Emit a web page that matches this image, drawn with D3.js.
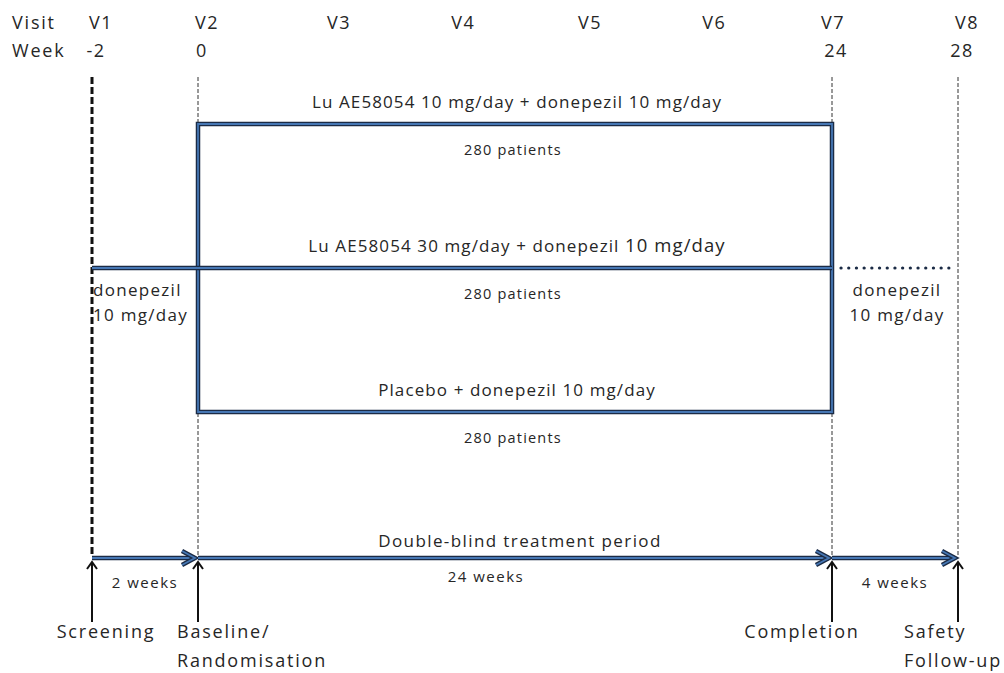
<!DOCTYPE html>
<html>
<head>
<meta charset="utf-8">
<script src="https://cdn.jsdelivr.net/npm/d3@7"></script>
<style>
body { margin: 0; background: #fff; }
text { font-family: "Open Sans", sans-serif; fill: #262626; }
</style>
</head>
<body>
<svg id="chart" width="1004" height="673"></svg>
<script>
// study design values
const visits = ['V1', 'V2', 'V3', 'V4', 'V5', 'V6', 'V7', 'V8'];
const visitWeeks = [-2, 0, 5, 9.7, 14.5, 19.2, 23.7, 28];
const weekTicks = [-2, 0, 24, 28];
const armTreatments = ['Lu AE58054 10 mg/day', 'Lu AE58054 30 mg/day', 'Placebo'];
const armBackground = 'donepezil 10 mg/day';
const armPatients = [280, 280, 280];
const periodStart = [-2, 0, 24];
const periodEnd = [0, 24, 28];
const periodWeeks = [2, 24, 4];
const periodLabelWeek = [-1, 10.9, 26];
const periodTitles = ['', 'Double-blind treatment period', ''];
const milestoneWeeks = [-2, 0, 24, 28];
const milestones = [['Screening'], ['Baseline/', 'Randomisation'], ['Completion'], ['Safety', 'Follow-up']];
const openLabelWeeks = [-2, 26]; // donepezil-only run-in / follow-up
const openLabel = ['donepezil', '10 mg/day'];

const svg = d3.select('#chart');

const x = d3.scaleLinear().domain([-2, 0, 24, 28]).range([92, 198, 832, 958]);
const y = d3.scalePoint().domain(d3.range(armTreatments.length)).range([124, 412]);
const timelineY = 558;

const NAVY = '#1b2b45', BLUE = '#4677b4';

// draws a "double" line: dark outline, blue core
function doubleLine(g, d) {
    g.append('path').attr('d', d).attr('fill', 'none')
        .attr('stroke', NAVY).attr('stroke-width', 4.5).attr('stroke-linejoin', 'miter');
    g.append('path').attr('d', d).attr('fill', 'none')
        .attr('stroke', BLUE).attr('stroke-width', 1.8).attr('stroke-linejoin', 'miter');
}

// header rows
svg.append('text').attr('x', 12).attr('y', 29).style('font-size', '18px').style('letter-spacing', '1.8px').text('Visit');
svg.append('text').attr('x', 12).attr('y', 57).style('font-size', '18px').style('letter-spacing', '1.8px').text('Week');

svg.selectAll('.visit').data(visits).enter().append('text')
    .attr('class', 'visit')
    .attr('x', (d, i) => x(visitWeeks[i]) + 9)
    .attr('y', 29)
    .attr('text-anchor', 'middle')
    .style('font-size', '18px').style('letter-spacing', '1.5px')
    .text(d => d);

svg.selectAll('.week').data(weekTicks).enter().append('text')
    .attr('class', 'week')
    .attr('x', d => x(d) + 4)
    .attr('y', 57)
    .attr('text-anchor', 'middle')
    .style('font-size', '18px').style('letter-spacing', '1.5px')
    .text(d => d);

// vertical dashed guides
svg.selectAll('.guide').data(weekTicks).enter().append('line')
    .attr('class', 'guide')
    .attr('x1', d => x(d)).attr('x2', d => x(d))
    .attr('y1', 77).attr('y2', timelineY - 3)
    .attr('stroke', d => d === -2 ? '#111' : '#333')
    .attr('stroke-width', d => d === -2 ? 3 : 1)
    .attr('stroke-dasharray', d => d === -2 ? '7,3' : '4,2');

// treatment arms box
const boxG = svg.append('g');
const yTop = y(0), yMid = y(1), yBot = y(armTreatments.length - 1);
doubleLine(boxG, `M${x(0)},${yTop}H${x(24)}V${yBot}H${x(0)}Z`);
doubleLine(boxG, `M${x(-2)},${yMid}H${x(24)}`);

// dotted donepezil follow-up line
svg.append('line')
    .attr('x1', x(24) + 9).attr('x2', x(28) - 5)
    .attr('y1', yMid).attr('y2', yMid)
    .attr('stroke', NAVY).attr('stroke-width', 3.2)
    .attr('stroke-linecap', 'round')
    .attr('stroke-dasharray', '0.1,7.6');

// arm labels
const armMid = (x(0) + x(24)) / 2;
armTreatments.forEach((t, i) => {
    const label = svg.append('text')
        .attr('x', armMid + 2).attr('y', y(i) - 16)
        .attr('text-anchor', 'middle')
        .style('font-size', '17px').style('letter-spacing', '1.1px');
    label.append('tspan').text(t + ' + donepezil ');
    label.append('tspan').style('font-size', i === 1 ? '18.5px' : '17px').text('10 mg/day');

    svg.append('text')
        .attr('x', armMid - 2).attr('y', y(i) + 31)
        .attr('text-anchor', 'middle')
        .style('font-size', '14.5px').style('letter-spacing', '1.2px')
        .text(armPatients[i] + ' patients');
});

// donepezil-only labels
openLabelWeeks.forEach((w, i) => {
    const t = svg.append('text')
        .attr('x', i === 0 ? x(w) + 1 : x(w) + 2)
        .attr('text-anchor', i === 0 ? 'start' : 'middle')
        .style('font-size', '17px').style('letter-spacing', '1.3px');
    openLabel.forEach((line, j) => {
        t.append('tspan').attr('x', i === 0 ? x(w) + 1 : x(w) + 2).attr('y', 296 + j * 25).text(line);
    });
});

// timeline arrows
const tl = svg.append('g');
periodStart.forEach((s, i) => {
    const x0 = x(s), x1 = x(periodEnd[i]);
    doubleLine(tl, `M${x0},${timelineY}H${x1 - 3}`);
    doubleLine(tl, `M${x1 - 16},${timelineY - 7}L${x1 - 3},${timelineY}L${x1 - 16},${timelineY + 7}`);

    if (periodTitles[i]) {
        svg.append('text')
            .attr('x', (x0 + x1) / 2 + 5).attr('y', timelineY - 11)
            .attr('text-anchor', 'middle')
            .style('font-size', '17px').style('letter-spacing', '1.4px')
            .text(periodTitles[i]);
    }
    svg.append('text')
        .attr('x', x(periodLabelWeek[i])).attr('y', i === 1 ? 582 : 588)
        .attr('text-anchor', 'middle')
        .style('font-size', '15px').style('letter-spacing', '1.5px')
        .text(periodWeeks[i] + ' weeks');
});

// milestone up-arrows
const labelDx = [14, -21, -30, -54];
const labelAnchor = ['middle', 'start', 'middle', 'start'];
milestoneWeeks.forEach((w, i) => {
    const mx = x(w);
    svg.append('line')
        .attr('x1', mx).attr('x2', mx)
        .attr('y1', 622).attr('y2', 562)
        .attr('stroke', '#111').attr('stroke-width', 2);
    svg.append('path')
        .attr('d', `M${mx - 5},${569}L${mx},${562}L${mx + 5},${569}`)
        .attr('fill', 'none').attr('stroke', '#111').attr('stroke-width', 2);

    const t = svg.append('text')
        .attr('text-anchor', labelAnchor[i])
        .style('font-size', '18px').style('letter-spacing', '1.8px');
    milestones[i].forEach((line, j) => {
        t.append('tspan').attr('x', mx + labelDx[i]).attr('y', 638 + j * 29).text(line);
    });
});
</script>
</body>
</html>
